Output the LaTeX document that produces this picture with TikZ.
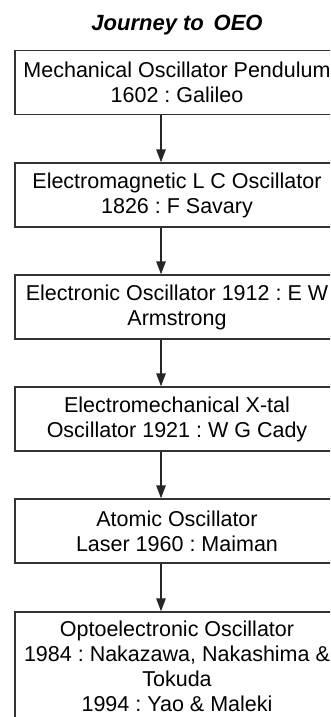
\documentclass[tikz,border=0pt]{standalone}
\usepackage{fontspec}
\setmainfont{Liberation Sans}
\frenchspacing
\usetikzlibrary{arrows.meta, positioning}

\begin{document}
\begin{tikzpicture}[x=1pt, y=1pt, >={Triangle[length=13pt, width=9.5pt]},
  font=\fontsize{21.5}{25}\selectfont,
  B/.style={draw=black!80, line width=1.4pt, minimum width=324pt, minimum height=64pt, align=center, inner sep=0pt},
  A/.style={->, draw=black!85, line width=1.4pt}]

\useasboundingbox (0,0) rectangle (330,-717);
\clip (0,0) rectangle (330,-717);

\node[font=\fontsize{22}{25}\selectfont\bfseries\itshape] (title) at (177,-25) {Journey to\, OEO};

\node[B] (b1) at (177,-82.5) {Mechanical Oscillator Pendulum\\1602 : Galileo};
\node[B] (b2) at (177,-195)  {Electromagnetic L C Oscillator\\1826 : F Savary};
\node[B] (b3) at (177,-307)  {Electronic Oscillator 1912 : E W\\Armstrong};
\node[B] (b4) at (177,-419)  {Electromechanical X-tal\\Oscillator 1921 : W G Cady};
\node[B] (b5) at (177,-531)  {Atomic Oscillator\\Laser 1960 : Maiman};
\node[B, minimum height=108pt] (b6) at (177,-666) {Optoelectronic Oscillator\\1984 : Nakazawa, Nakashima \&\\Tokuda\\1994 : Yao \& Maleki};

% arrows sit a little left of the box centres
\draw[A] ([xshift=-16pt]b1.south) -- ([xshift=-16pt]b2.north);
\draw[A] ([xshift=-16pt]b2.south) -- ([xshift=-16pt]b3.north);
\draw[A] ([xshift=-16pt]b3.south) -- ([xshift=-16pt]b4.north);
\draw[A] ([xshift=-16pt]b4.south) -- ([xshift=-16pt]b5.north);
\draw[A] ([xshift=-16pt]b5.south) -- ([xshift=-16pt]b6.north);

\end{tikzpicture}
\end{document}
